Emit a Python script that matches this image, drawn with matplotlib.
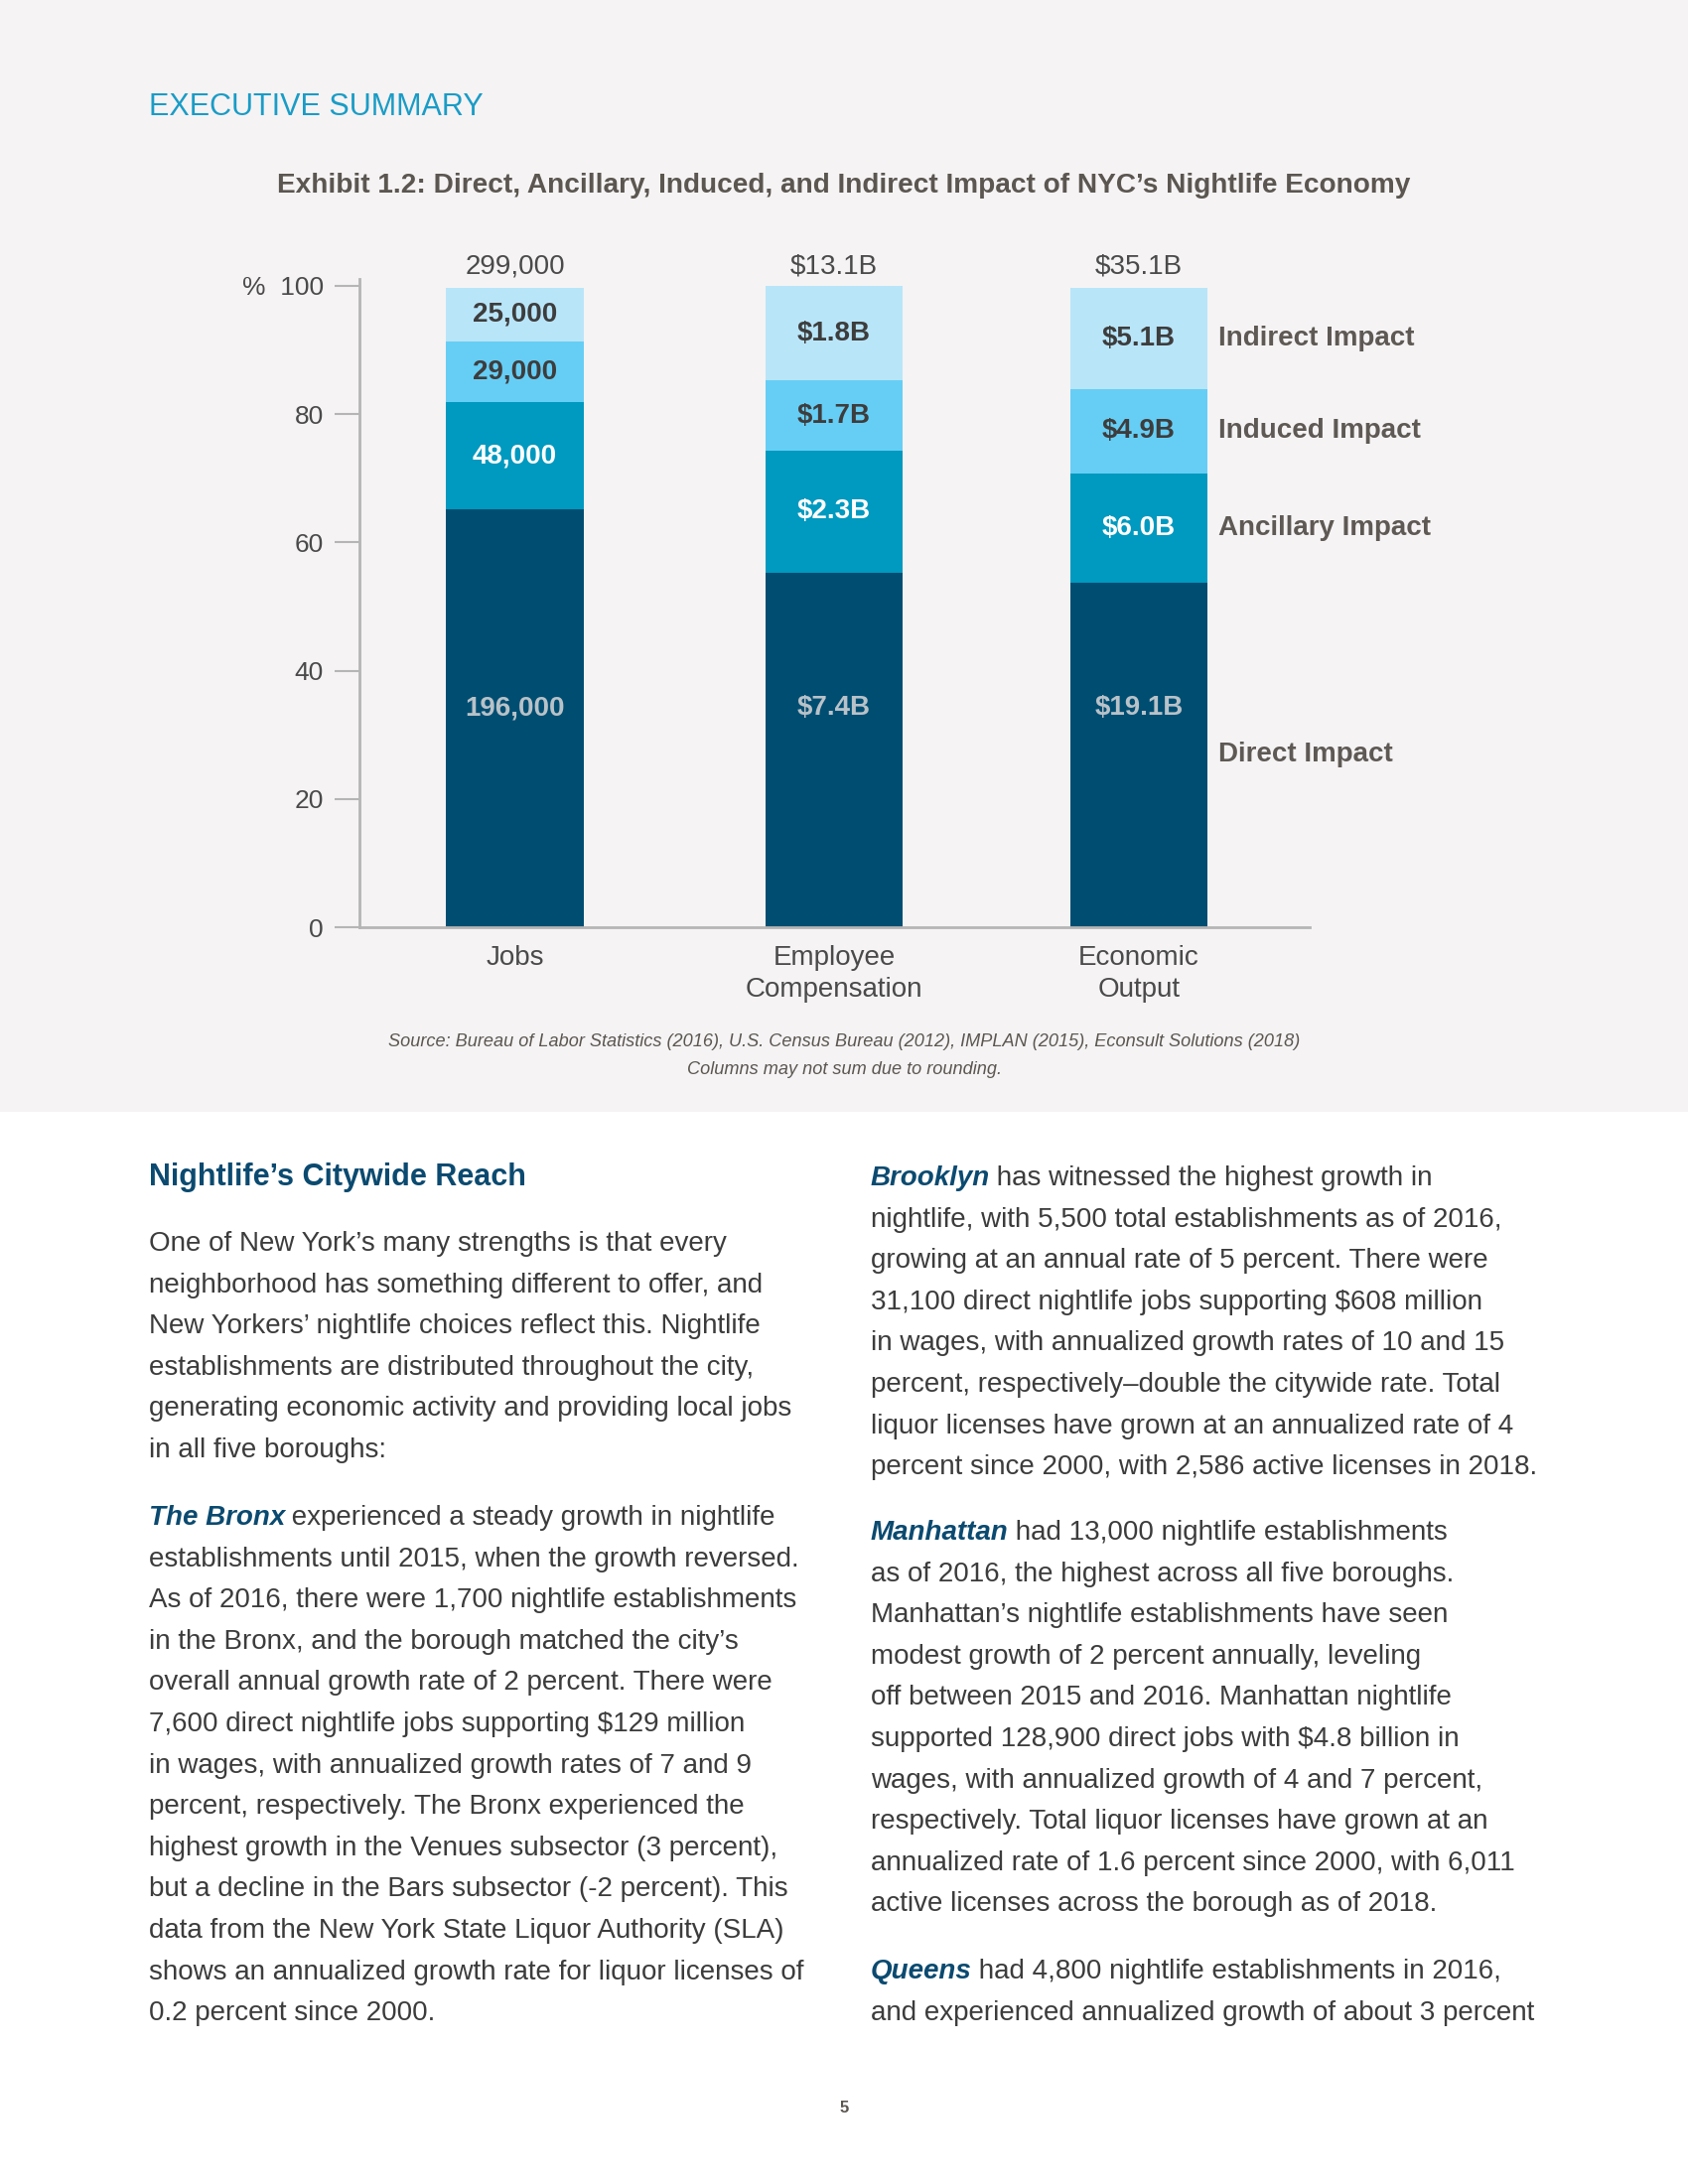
import matplotlib
matplotlib.use("Agg")
import matplotlib.pyplot as plt
from matplotlib.patches import Rectangle

plt.rcParams['font.family'] = ['Liberation Sans', 'DejaVu Sans']
plt.rcParams['text.parse_math'] = False

# data
categories = ['Jobs', 'Employee\nCompensation', 'Economic\nOutput']
totals = ['299,000', '$13.1B', '$35.1B']
layers = ['Direct Impact', 'Ancillary Impact', 'Induced Impact', 'Indirect Impact']
# share of each column (percent)
direct = [65.2, 55.3, 53.7]
ancillary = [16.6, 19.0, 17.0]
induced = [9.5, 10.9, 13.2]
indirect = [8.4, 14.8, 15.8]
direct_lbl = ['196,000', '$7.4B', '$19.1B']
ancillary_lbl = ['48,000', '$2.3B', '$6.0B']
induced_lbl = ['29,000', '$1.7B', '$4.9B']
indirect_lbl = ['25,000', '$1.8B', '$5.1B']

W, H = 1700, 2200
GRAY_BG = '#f5f3f4'
BODY_C = '#3c3c3c'
NAVY = '#0b4a70'
colors = ['#004d72', '#0099bf', '#66cef5', '#b9e5f9']
lbl_colors = ['#b8c2c8', 'white', '#3d3d3d', '#3d3d3d']

fig = plt.figure(figsize=(17, 22), dpi=100, facecolor='white')
fig.patches.append(Rectangle((0, 1 - 1120 / H), 1, 1120 / H, transform=fig.transFigure,
                             facecolor=GRAY_BG, edgecolor='none', zorder=-10))


def ftext(x, y, s, **kw):
    return fig.text(x / W, 1 - y / H, s, **kw)


ftext(150, 108, 'EXECUTIVE SUMMARY', fontsize=22, color='#1a9cc6', va='center')
ftext(850, 187, 'Exhibit 1.2: Direct, Ancillary, Induced, and Indirect Impact of NYC\u2019s Nightlife Economy',
      fontsize=20.2, fontweight='bold', color='#5b5650', ha='center', va='center')

# chart
ax = fig.add_axes([362 / W, 1 - 934 / H, (1319 - 362) / W, (934 - 280.7) / H])
ax.set_facecolor('none')
pos = [0, 1, 1.955]
bw = 0.432
series = [direct, ancillary, induced, indirect]
labels = [direct_lbl, ancillary_lbl, induced_lbl, indirect_lbl]
bottom = [0, 0, 0]
for k, vals in enumerate(series):
    ax.bar(pos, vals, bw, bottom=bottom, color=colors[k], edgecolor='none', zorder=2)
    for i in range(3):
        if k == 0:
            yy = 34.2
        else:
            yy = bottom[i] + vals[i] / 2
        ax.text(pos[i], yy, labels[k][i], ha='center', va='center', fontsize=20,
                fontweight='bold', color=lbl_colors[k], zorder=3)
    # layer name beside the last column
    ax.text(pos[-1] + bw / 2 + 0.034, bottom[-1] + vals[-1] / 2, layers[k], ha='left', va='center',
            fontsize=20, fontweight='bold', color='#5e5954')
    bottom = [b + v for b, v in zip(bottom, vals)]

for i in range(3):
    ax.text(pos[i], 103.0, totals[i], ha='center', va='center', fontsize=20, color='#4a4a4a')

ax.set_xlim(-0.487, 2.49)
ax.set_ylim(0, 101.1)
ax.set_yticks([0, 20, 40, 60, 80, 100])
ax.set_yticklabels(['0', '20', '40', '60', '80', '%  100'])
ax.set_xticks(pos)
ax.set_xticklabels(categories, linespacing=1.3)
for s in ['top', 'right']:
    ax.spines[s].set_visible(False)
for s in ['left', 'bottom']:
    ax.spines[s].set_color('#b5b5b5')
    ax.spines[s].set_linewidth(2)
ax.tick_params(axis='y', length=18, width=1.5, color='#b5b5b5', pad=8, labelsize=19, labelcolor='#4a4a4a')
ax.tick_params(axis='x', length=0, pad=13, labelsize=20, labelcolor='#4a4a4a')

ftext(850, 1049, 'Source: Bureau of Labor Statistics (2016), U.S. Census Bureau (2012), IMPLAN (2015), Econsult Solutions (2018)',
      fontsize=13.1, style='italic', color='#5b5650', ha='center', va='center')
ftext(850, 1077, 'Columns may not sum due to rounding.', fontsize=13.1, style='italic', color='#5b5650',
      ha='center', va='center')

# body text
BODY = 20
LS = 41.6
renderer = fig.canvas.get_renderer()


def lines_at(x, y0, lines):
    for i, ln in enumerate(lines):
        ftext(x, y0 + i * LS, ln, fontsize=BODY, color=BODY_C, va='baseline')


def runin(x, y0, lead, first, rest):
    t = ftext(x, y0, lead, fontsize=BODY, fontweight='bold', style='italic', color=NAVY, va='baseline')
    bb = t.get_window_extent(renderer)
    ftext(bb.x1 - 1, y0, first, fontsize=BODY, color=BODY_C, va='baseline')
    lines_at(x, y0 + LS, rest)


LX, RX = 150, 877
ftext(LX, 1194, 'Nightlife\u2019s Citywide Reach', fontsize=22, fontweight='bold', color=NAVY, va='baseline')
lines_at(LX, 1260, [
    'One of New York\u2019s many strengths is that every',
    'neighborhood has something different to offer, and',
    'New Yorkers\u2019 nightlife choices reflect this. Nightlife',
    'establishments are distributed throughout the city,',
    'generating economic activity and providing local jobs',
    'in all five boroughs:',
])
runin(LX, 1536, 'The Bronx', ' experienced a steady growth in nightlife', [
    'establishments until 2015, when the growth reversed.',
    'As of 2016, there were 1,700 nightlife establishments',
    'in the Bronx, and the borough matched the city\u2019s',
    'overall annual growth rate of 2 percent. There were',
    '7,600 direct nightlife jobs supporting $129 million',
    'in wages, with annualized growth rates of 7 and 9',
    'percent, respectively. The Bronx experienced the',
    'highest growth in the Venues subsector (3 percent),',
    'but a decline in the Bars subsector (-2 percent). This',
    'data from the New York State Liquor Authority (SLA)',
    'shows an annualized growth rate for liquor licenses of',
    '0.2 percent since 2000.',
])
runin(RX, 1194, 'Brooklyn', ' has witnessed the highest growth in', [
    'nightlife, with 5,500 total establishments as of 2016,',
    'growing at an annual rate of 5 percent. There were',
    '31,100 direct nightlife jobs supporting $608 million',
    'in wages, with annualized growth rates of 10 and 15',
    'percent, respectively\u2013double the citywide rate. Total',
    'liquor licenses have grown at an annualized rate of 4',
    'percent since 2000, with 2,586 active licenses in 2018.',
])
runin(RX, 1551, 'Manhattan', ' had 13,000 nightlife establishments', [
    'as of 2016, the highest across all five boroughs.',
    'Manhattan\u2019s nightlife establishments have seen',
    'modest growth of 2 percent annually, leveling',
    'off between 2015 and 2016. Manhattan nightlife',
    'supported 128,900 direct jobs with $4.8 billion in',
    'wages, with annualized growth of 4 and 7 percent,',
    'respectively. Total liquor licenses have grown at an',
    'annualized rate of 1.6 percent since 2000, with 6,011',
    'active licenses across the borough as of 2018.',
])
runin(RX, 1993, 'Queens', ' had 4,800 nightlife establishments in 2016,', [
    'and experienced annualized growth of about 3 percent',
])

ftext(850, 2123, '5', fontsize=12, fontweight='bold', color='#5b5650', ha='center', va='center')

fig.savefig('out.png', dpi=100, facecolor='white')
